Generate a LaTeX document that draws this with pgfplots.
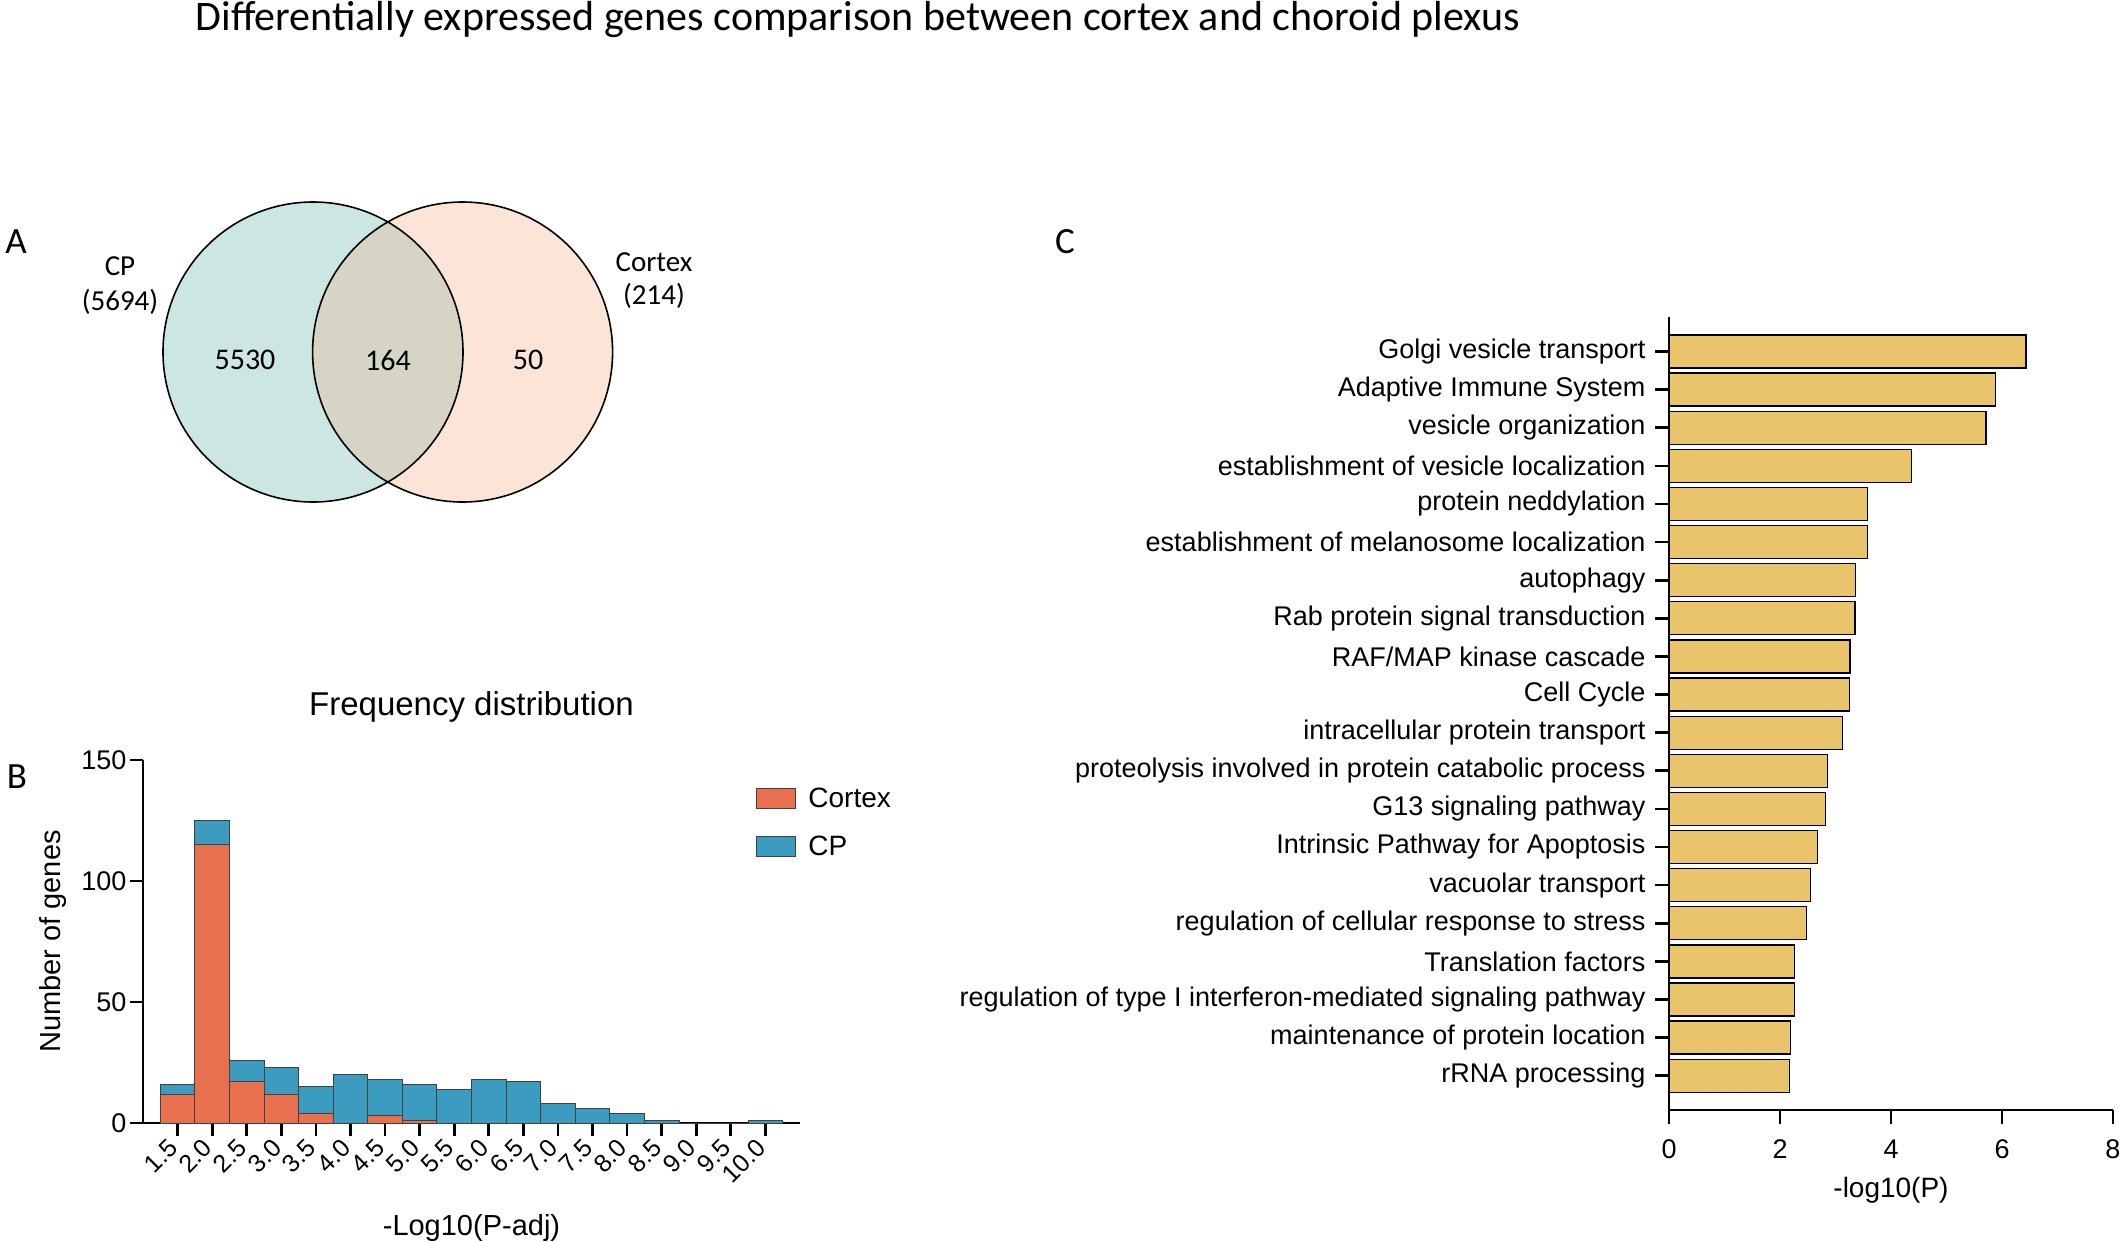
\documentclass[border=0pt]{standalone}
\usepackage{pgfplots}
\pgfplotsset{compat=1.18}
\usepackage{pgfplotstable}
\usepackage{fontspec}
\setmainfont{Liberation Sans}
\newfontfamily\calfont{Carlito}

\definecolor{cortexc}{HTML}{E8704F}
\definecolor{cpc}{HTML}{3B9CC0}
\definecolor{goldc}{HTML}{E9C46A}
\definecolor{vteal}{HTML}{CCE7E3}
\definecolor{vpeach}{HTML}{FCE5D6}
\definecolor{vmix}{HTML}{D6D4C5}

\newcommand{\fs}[1]{\fontsize{#1bp}{#1bp}\selectfont}

% histogram counts per -log10(p-adj) bin
\pgfplotstableread{
x    cortex cp
1.5  12   16
2.0  115  125
2.5  17   26
3.0  12   23
3.5  4    15
4.0  0    20
4.5  3    18
5.0  1    16
5.5  0    14
6.0  0    18
6.5  0    17
7.0  0    8
7.5  0    6
8.0  0    4
8.5  0    1
9.0  0    0
9.5  0    0
10.0 0    1
}\histdata

% enrichment, idx 0 = bottom bar
\pgfplotstableread{
idx val
0  2.17
1  2.19
2  2.26
3  2.26
4  2.48
5  2.55
6  2.68
7  2.82
8  2.86
9  3.13
10 3.25
11 3.26
12 3.35
13 3.36
14 3.58
15 3.58
16 4.37
17 5.71
18 5.88
19 6.43
}\godata

\begin{document}
\begin{tikzpicture}
\path[use as bounding box] (0,0) rectangle (2128bp,-1242bp);

\node[font=\calfont\fs{42}] at (858bp,-20bp) {Differentially expressed genes comparison between cortex and choroid plexus};
\node[font=\calfont\fs{37}] at (16bp,-242bp) {A};
\node[font=\calfont\fs{37}] at (17bp,-777bp) {B};
\node[font=\calfont\fs{37}] at (1065bp,-242bp) {C};

% ---- A: Venn
\begin{axis}[
  at={(0bp,-520bp)}, anchor=south west, scale only axis,
  width=700bp, height=340bp,
  xmin=0, xmax=700, ymin=180, ymax=520, y dir=reverse,
  hide axis, clip=false]
\fill[vteal] (axis cs:313,352) circle[radius=150bp];
\fill[vpeach] (axis cs:462.6,352) circle[radius=150bp];
\begin{scope}
\clip (axis cs:313,352) circle[radius=150bp];
\fill[vmix] (axis cs:462.6,352) circle[radius=150bp];
\end{scope}
\draw[line width=1.6bp] (axis cs:313,352) circle[radius=150bp];
\draw[line width=1.6bp] (axis cs:462.6,352) circle[radius=150bp];
\node[font=\calfont\fs{30}] at (axis cs:245,360) {5530};
\node[font=\calfont\fs{30}] at (axis cs:388,360) {164};
\node[font=\calfont\fs{30}] at (axis cs:528,360) {50};
\node[font=\calfont\fs{29}] at (axis cs:120,266) {CP};
\node[font=\calfont\fs{29}] at (axis cs:120,302) {(5694)};
\node[font=\calfont\fs{29}] at (axis cs:654,262) {Cortex};
\node[font=\calfont\fs{29}] at (axis cs:654,296) {(214)};
\end{axis}

% ---- B: histogram
\begin{axis}[
  at={(143bp,-1123bp)}, anchor=south west, scale only axis,
  width=657bp, height=363bp,
  xmin=1, xmax=10.5, ymin=0, ymax=150,
  axis x line*=bottom, axis y line*=left,
  axis line style={line width=2.7bp},
  major tick style={line width=2.7bp, black},
  tick align=outside, major tick length=13bp,
  xtick={1.5,2,...,10},
  xticklabels={1.5,2.0,2.5,3.0,3.5,4.0,4.5,5.0,5.5,6.0,6.5,7.0,7.5,8.0,8.5,9.0,9.5,10.0},
  xticklabel style={xshift=-3bp, yshift=-6bp, rotate=45, anchor=east, font=\fs{25}, inner sep=2bp},
  ytick={0,50,100,150},
  yticklabel style={font=\fs{27}},
  /pgf/number format/assume math mode=true,
  xlabel={-Log10(P-adj)},
  xlabel style={font=\fs{29}, at={(axis description cs:0.5,-0.289)}, anchor=center},
  ylabel={Number of genes},
  ylabel style={font=\fs{29}, at={(axis description cs:-0.137,0.5)}, anchor=center},
  title={Frequency distribution},
  title style={font=\fs{33}, at={(axis description cs:0.5,1.13)}, anchor=center},
  reverse legend,
  legend cell align=left,
  legend style={at={(axis description cs:0.932,0.93)}, anchor=north west,
    draw=none, fill=none, inner sep=0pt, font=\fs{28}, row sep=23bp},
  legend image code/.code={\draw[#1] (0bp,-10bp) rectangle (39bp,10bp); \path (50bp,0bp);},
  clip=false,
]
\addplot[ybar, bar width=0.5, bar shift=0pt, fill=cpc, draw=black!75, line width=0.9bp]
  table[x=x, y=cp] {\histdata};
\addlegendentry{CP}
\addplot[ybar, bar width=0.5, bar shift=0pt, fill=cortexc, draw=black!75, line width=0.9bp]
  table[x=x, y=cortex] {\histdata};
\addlegendentry{Cortex}
\end{axis}

% ---- C: enrichment bars
\begin{axis}[
  at={(1669bp,-1110bp)}, anchor=south west, scale only axis,
  width=444bp, height=793bp,
  xmin=0, xmax=8, ymin=-0.9, ymax=19.905,
  axis x line*=bottom, axis y line*=left,
  axis line style={line width=2.7bp},
  major tick style={line width=2.7bp, black},
  tick align=outside, major tick length=14bp,
  xtick={0,2,4,6,8},
  xticklabel style={font=\fs{27}, yshift=-12bp},
  /pgf/number format/assume math mode=true,
  ytick={0,...,19},
  yticklabels={rRNA processing,
    maintenance of protein location,
    regulation of type I interferon-mediated signaling pathway,
    Translation factors,
    regulation of cellular response to stress,
    vacuolar transport,
    Intrinsic Pathway for Apoptosis,
    G13 signaling pathway,
    proteolysis involved in protein catabolic process,
    intracellular protein transport,
    Cell Cycle,
    RAF/MAP kinase cascade,
    Rab protein signal transduction,
    autophagy,
    establishment of melanosome localization,
    protein neddylation,
    establishment of vesicle localization,
    vesicle organization,
    Adaptive Immune System,
    Golgi vesicle transport},
  yticklabel style={font=\fs{27}, xshift=-6bp},
  xlabel={-log10(P)},
  xlabel style={font=\fs{28}, at={(axis description cs:0.5,-0.101)}, anchor=center},
  clip=false,
]
\addplot[xbar, bar width=0.866, bar shift=0pt, fill=goldc, draw=black, line width=1.3bp]
  table[x=val, y=idx] {\godata};
\end{axis}
\end{tikzpicture}
\end{document}
